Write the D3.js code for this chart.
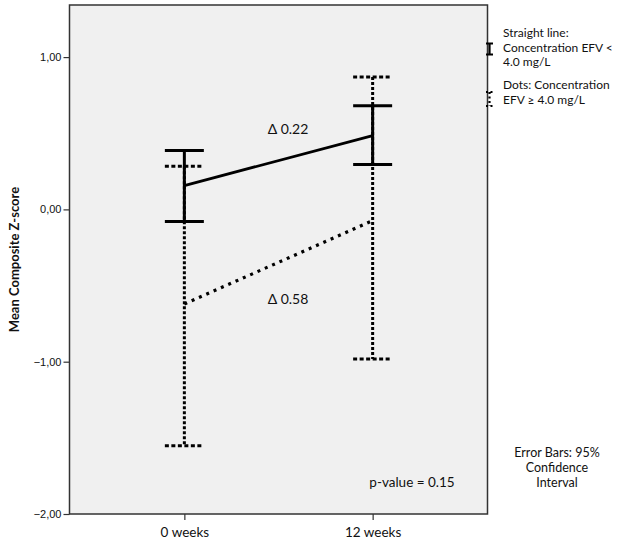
<!DOCTYPE html>
<html>
<head>
<meta charset="utf-8">
<script src="https://cdn.jsdelivr.net/npm/d3@7"></script>
<style>
  body { margin: 0; background: #fff; }
  text { font-family: Lato, "Open Sans", sans-serif; fill: #111; }
  .tick text { font-family: "Liberation Sans", Arial, sans-serif; }
</style>
</head>
<body>
<svg width="637" height="541"></svg>
<script>
// data
var timepoints = ['0 weeks', '12 weeks'];
var lowMean  = [0.156, 0.485];   // straight line: EFV < 4.0 mg/L
var lowUpper = [0.386, 0.680];
var lowLower = [-0.080, 0.294];
var highMean  = [-0.621, -0.074]; // dots: EFV >= 4.0 mg/L
var highUpper = [0.284, 0.869];
var highLower = [-1.552, -0.982];
var yTicks = [1, 0, -1, -2];

var svg = d3.select('svg');
var plot = {l: 69.5, r: 487.5, t: 5, b: 514};

var x = d3.scalePoint()
    .domain(timepoints)
    .range([plot.l, plot.r])
    .padding(0.61);

var y = d3.scaleLinear()
    .domain([-2, 1.342])
    .range([plot.b, plot.t]);

// plot frame
svg.append('rect')
    .attr('x', plot.l).attr('y', plot.t)
    .attr('width', plot.r - plot.l).attr('height', plot.b - plot.t)
    .attr('fill', '#f0f0f0')
    .attr('stroke', '#333').attr('stroke-width', 1.5);

// axes
var fmt = function(d) { return d3.format('.2f')(d).replace('.', ','); };
var yAxis = svg.append('g')
    .attr('class', 'axis')
    .attr('transform', 'translate(' + plot.l + ',0)')
    .call(d3.axisLeft(y).tickValues(yTicks).tickFormat(fmt).tickSize(6).tickPadding(2));
yAxis.select('.domain').remove();
yAxis.selectAll('line').attr('stroke', '#333').attr('stroke-width', 1.2);
yAxis.selectAll('text').attr('font-size', 11).attr('fill', '#222');

var xAxis = svg.append('g')
    .attr('class', 'axis')
    .attr('transform', 'translate(0,' + plot.b + ')')
    .call(d3.axisBottom(x).tickSize(6).tickPadding(7));
xAxis.select('.domain').remove();
xAxis.selectAll('line').attr('stroke', '#333').attr('stroke-width', 1.2);
xAxis.selectAll('text').attr('font-size', 13.5).attr('fill', '#222')
    .style('font-family', 'Lato, "Open Sans", sans-serif');

svg.append('text')
    .attr('transform', 'translate(19,' + ((plot.t + plot.b) / 2) + ') rotate(-90)')
    .attr('text-anchor', 'middle')
    .attr('font-size', 13)
    .attr('font-weight', 'bold')
    .text('Mean Composite Z-score');

// series
function drawSeries(mean, upper, lower, dotted) {
    var g = svg.append('g');
    var capW = 19.5;
    var line = d3.line()
        .x(function(d, i) { return x(timepoints[i]); })
        .y(function(d) { return y(d); });

    g.selectAll('.whisker')
        .data(timepoints)
        .enter().append('line')
        .attr('x1', function(d) { return x(d); })
        .attr('x2', function(d) { return x(d); })
        .attr('y1', function(d, i) { return y(upper[i]); })
        .attr('y2', function(d, i) { return y(lower[i]); })
        .attr('stroke', '#000')
        .attr('stroke-width', 3)
        .attr('stroke-dasharray', dotted ? '3,2' : null);

    var caps = [];
    timepoints.forEach(function(t, i) {
        caps.push({t: t, v: upper[i]});
        caps.push({t: t, v: lower[i]});
    });
    g.selectAll('.cap')
        .data(caps)
        .enter().append('line')
        .attr('x1', function(d) { return x(d.t) - capW; })
        .attr('x2', function(d) { return x(d.t) + capW; })
        .attr('y1', function(d) { return y(d.v); })
        .attr('y2', function(d) { return y(d.v); })
        .attr('stroke', '#000')
        .attr('stroke-width', 3)
        .attr('stroke-dasharray', dotted ? '4,2.5' : null);

    g.append('path')
        .datum(mean)
        .attr('d', line)
        .attr('fill', 'none')
        .attr('stroke', '#000')
        .attr('stroke-width', dotted ? 3.2 : 2.8)
        .attr('stroke-dasharray', dotted ? '3,5' : null);
}

drawSeries(lowMean, lowUpper, lowLower, false);
drawSeries(highMean, highUpper, highLower, true);

// annotations
svg.append('text').attr('x', 288).attr('y', 134).attr('text-anchor', 'middle')
    .attr('font-size', 14).text('\u0394 0.22');
svg.append('text').attr('x', 288).attr('y', 304).attr('text-anchor', 'middle')
    .attr('font-size', 14).text('\u0394 0.58');
svg.append('text').attr('x', 412).attr('y', 487).attr('text-anchor', 'middle')
    .attr('font-size', 13.5).text('p-value = 0.15');

// legend
var legend = svg.append('g');
var legendLines = [
    {t: 'Straight line:', y: 37},
    {t: 'Concentration EFV <', y: 51.5},
    {t: '4.0 mg/L', y: 66},
    {t: 'Dots: Concentration', y: 89},
    {t: 'EFV \u2265 4.0 mg/L', y: 103.5}
];
legend.selectAll('text')
    .data(legendLines)
    .enter().append('text')
    .attr('x', 503)
    .attr('y', function(d) { return d.y; })
    .attr('font-size', 12)
    .text(function(d) { return d.t; });

// legend icons
legend.append('path')
    .attr('d', 'M486,43.5H493M489.5,43.5V54.5M486,54.5H493')
    .attr('stroke', '#000').attr('stroke-width', 2.2).attr('fill', 'none');
legend.append('path')
    .attr('d', 'M486,92H493M489.5,92V106M486,106H493')
    .attr('stroke', '#000').attr('stroke-width', 2.2).attr('fill', 'none')
    .attr('stroke-dasharray', '2,2.5');

// error bar note
var note = ['Error Bars: 95%', 'Confidence', 'Interval'];
svg.append('g').selectAll('text')
    .data(note)
    .enter().append('text')
    .attr('x', 557)
    .attr('y', function(d, i) { return 457 + i * 15; })
    .attr('text-anchor', 'middle')
    .attr('font-size', 12.5)
    .text(function(d) { return d; });
</script>
</body>
</html>
